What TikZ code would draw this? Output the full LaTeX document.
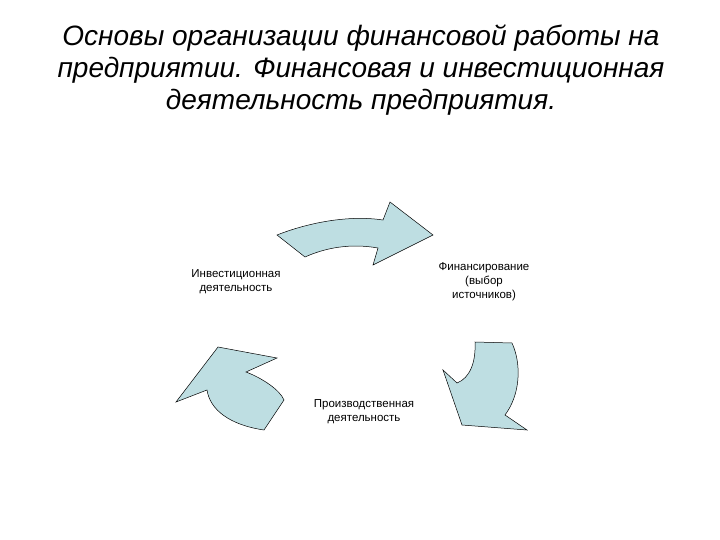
\documentclass[tikz,border=0pt]{standalone}
\usepackage{fontspec}
\setmainfont{Liberation Sans}
\begin{document}
\begin{tikzpicture}[x=1pt,y=-1pt,
 arr/.style={fill={rgb,255:red,190;green,222;blue,226},draw=black,line width=0.5pt,line join=miter},
 lbl/.style={font=\fontsize{11.5}{14}\selectfont,align=center},
 ttl/.style={font=\fontsize{28}{32}\selectfont\itshape,align=center}]
\useasboundingbox (0,0) rectangle (720,540);
\node[ttl] (title) at (361,70) {Основы организации финансовой работы на\\предприятии. Финансовая и инвестиционная\\деятельность предприятия.};
\draw[arr] (277,235) .. controls (310,222) and (350,215) .. (383,220) -- (390,202) -- (433,235) -- (373,265) -- (378,248) .. controls (350,243) and (325,248) .. (305,257) -- cycle;
\draw[arr] (475,342) -- (512,343) .. controls (522,365) and (520,395) .. (505,415) -- (527,430) -- (462,425) -- (443,370) -- (457,383) .. controls (470,378) and (476,362) .. (475,342) -- cycle;
\draw[arr] (218,347) -- (277,358) -- (246,372) .. controls (262,378) and (280,390) .. (284,400) -- (264,430) .. controls (230,425) and (210,410) .. (207,390) -- (176,402) -- cycle;
\node[lbl] (inv) at (236,282) {Инвестиционная\\деятельность};
\node[lbl] (fin) at (484,282) {Финансирование\\(выбор\\источников)};
\node[lbl] (prod) at (364,412) {Производственная\\деятельность};
\end{tikzpicture}
\end{document}
